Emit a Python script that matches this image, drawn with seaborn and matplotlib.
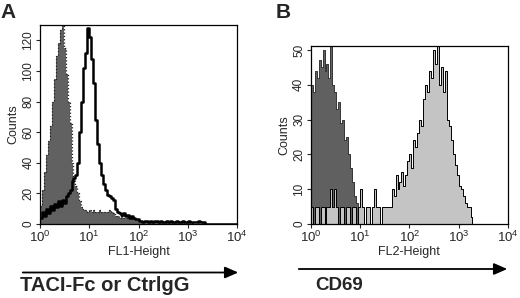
import numpy as np
import matplotlib
matplotlib.use("Agg")
import matplotlib.pyplot as plt
import seaborn as sns
from matplotlib.ticker import LogLocator, FixedLocator

sns.set_style("white")
plt.rcParams['font.family'] = ['Liberation Sans', 'DejaVu Sans']
plt.rcParams['mathtext.fontset'] = 'custom'
plt.rcParams['mathtext.rm'] = 'Liberation Sans'
plt.rcParams['mathtext.it'] = 'Liberation Sans'

# ---- data: histogram counts per channel bin (bins are 0.04 decades wide, from 10^0 to 10^4)
BIN_W = 0.04

# Panel A: control (filled gray) and TACI-Fc (black line), FL1
a_ctrl = [12, 22, 34, 45, 54, 64, 80, 95, 110, 118,
          127, 130, 115, 98, 80, 66, 40, 30, 25, 20,
          15, 11, 9, 9, 8, 9, 8, 9, 8, 8,
          9, 8, 8, 8, 8, 9, 8, 7, 5, 5,
          4, 5, 4, 4, 5, 4, 3, 4, 3, 3,
          2, 2, 2, 1, 2, 2, 1, 2, 1, 1,
          2, 1, 1, 1, 1, 2, 1, 1, 1, 1,
          1, 1, 1, 0, 1, 1, 0, 1, 0, 0,
          1, 0, 1, 0, 0, 0, 0, 0, 0, 0,
          0, 0, 0, 0, 0, 0, 0, 0, 0, 0]
a_taci = [4, 8, 5, 10, 7, 12, 9, 13, 11, 15,
          12, 16, 14, 18, 20, 22, 28, 30, 32, 40,
          60, 80, 102, 112, 128, 122, 108, 92, 68, 52,
          40, 32, 26, 22, 19, 18, 17, 16, 10, 8,
          7, 6, 7, 5, 6, 4, 5, 4, 3, 3,
          2, 2, 1, 2, 2, 1, 2, 1, 2, 2,
          1, 2, 1, 1, 2, 1, 2, 1, 1, 2,
          1, 1, 2, 1, 1, 2, 1, 1, 1, 1,
          2, 1, 1, 1, 0, 0, 0, 0, 0, 0,
          0, 0, 0, 0, 0, 0, 0, 0, 0, 0]

# Panel B: unstimulated (dark gray) and stimulated (light gray), FL2 / CD69
b_unstim = [40, 38, 44, 42, 47, 45, 50, 44, 46, 42,
            51, 40, 38, 33, 35, 29, 30, 24, 25, 20,
            16, 12, 8, 6, 5, 3, 2, 0, 0, 0,
            0, 0, 0, 0, 0, 0, 0, 0, 0, 0,
            0, 0, 0, 0, 0, 0, 0, 0, 0, 0,
            0, 0, 0, 0, 0, 0, 0, 0, 0, 0,
            0, 0, 0, 0, 0, 0, 0, 0, 0, 0,
            0, 0, 0, 0, 0, 0, 0, 0, 0, 0,
            0, 0, 0, 0, 0, 0, 0, 0, 0, 0,
            0, 0, 0, 0, 0, 0, 0, 0, 0, 0]
b_stim = [5, 0, 5, 5, 0, 5, 5, 0, 5, 5,
          10, 5, 10, 5, 0, 5, 5, 0, 5, 5,
          0, 5, 5, 0, 5, 10, 5, 0, 5, 5,
          0, 5, 10, 5, 5, 0, 5, 5, 5, 5,
          5, 10, 8, 14, 10, 12, 15, 11, 14, 18,
          20, 16, 24, 22, 26, 30, 28, 36, 40, 38,
          44, 42, 50, 46, 51, 40, 45, 38, 44, 30,
          28, 24, 20, 17, 14, 11, 10, 8, 6, 5,
          5, 2, 0, 0, 0, 0, 0, 0, 0, 0,
          0, 0, 0, 0, 0, 0, 0, 0, 0, 0]

x_ticks = [1, 10, 100, 1000, 10000]
a_yticks = [0, 20, 40, 60, 80, 100, 120]
b_yticks = [0, 10, 20, 30, 40, 50]

centers = 10 ** ((np.arange(len(a_ctrl)) + 0.5) * BIN_W)

fig = plt.figure(figsize=(5.2, 2.98), dpi=100)
axA = fig.add_axes([40/520, 1-224/298, 197/520, 199/298])
axB = fig.add_axes([310.7/520, 1-224/298, 197.3/520, 178.3/298])

hist_kw = dict(log_scale=True, binwidth=BIN_W, binrange=(0, 4), element="step", stat="count")

# Panel A
sns.histplot(x=centers, weights=a_ctrl, fill=True, color="#616161", alpha=1,
             linewidth=0, ax=axA, **hist_kw)
sns.histplot(x=centers, weights=a_ctrl, fill=False, color="#202020",
             linewidth=0.9, linestyle=":", ax=axA, **hist_kw)
sns.histplot(x=centers, weights=a_taci, fill=False, color="black",
             linewidth=1.8, ax=axA, **hist_kw)

# Panel B
sns.histplot(x=centers, weights=b_unstim, fill=True, color="#606060", alpha=1,
             edgecolor="#222222", linewidth=0.6, ax=axB, **hist_kw)
sns.histplot(x=centers, weights=b_stim, fill=True, color="#c4c4c4", alpha=1,
             linewidth=0, ax=axB, **hist_kw)
sns.histplot(x=centers, weights=b_stim, fill=False, color="black",
             linewidth=0.7, ax=axB, **hist_kw)

for ax, yt, ymax, xl in [(axA, a_yticks, 130, "FL1-Height"), (axB, b_yticks, 51.2, "FL2-Height")]:
    ax.set_xlim(1, 1e4)
    ax.set_ylim(0, ymax)
    ax.set_xticks(x_ticks)
    ax.xaxis.set_minor_locator(LogLocator(base=10, subs=np.arange(2, 10)))
    ax.yaxis.set_major_locator(FixedLocator(yt))
    ax.set_xlabel(xl, fontsize=9, labelpad=1)
    ax.set_ylabel("Counts", fontsize=9, labelpad=2)
    ax.tick_params(axis="x", which="major", direction="out", length=3, width=0.8,
                   labelsize=9.5, pad=1, bottom=True)
    ax.tick_params(axis="x", which="minor", direction="out", length=1.8, width=0.6, bottom=True)
    ax.tick_params(axis="y", which="major", direction="out", length=3, width=0.8,
                   labelsize=8.5, pad=1, left=True, labelrotation=90)
    for lab in ax.get_yticklabels():
        lab.set_va("center")
    for s in ax.spines.values():
        s.set_visible(True)
        s.set_color("black")
        s.set_linewidth(0.9)

# Panel letters
fig.text(8/520, 1-12/298, "A", fontsize=15, fontweight="bold", ha="center", va="center")
fig.text(283/520, 1-12/298, "B", fontsize=15, fontweight="bold", ha="center", va="center")

# Arrows and axis titles below
arrow_kw = dict(arrowstyle="-|>,head_length=0.8,head_width=0.35", color="black", lw=1.3)
fig.patches.append(matplotlib.patches.FancyArrowPatch((20/520, 1-272.5/298), (241/520, 1-272.5/298),
                   transform=fig.transFigure, mutation_scale=10, **arrow_kw))
fig.patches.append(matplotlib.patches.FancyArrowPatch((296/520, 1-269/298), (510/520, 1-269/298),
                   transform=fig.transFigure, mutation_scale=10, **arrow_kw))
fig.text(20/520, 1-285.5/298, "TACI-Fc or CtrlgG", fontsize=14.5, fontweight="bold", ha="left", va="center")
fig.text(315/520, 1-285.5/298, "CD69", fontsize=13.5, fontweight="bold", ha="left", va="center")

fig.savefig("out.png", dpi=100)
